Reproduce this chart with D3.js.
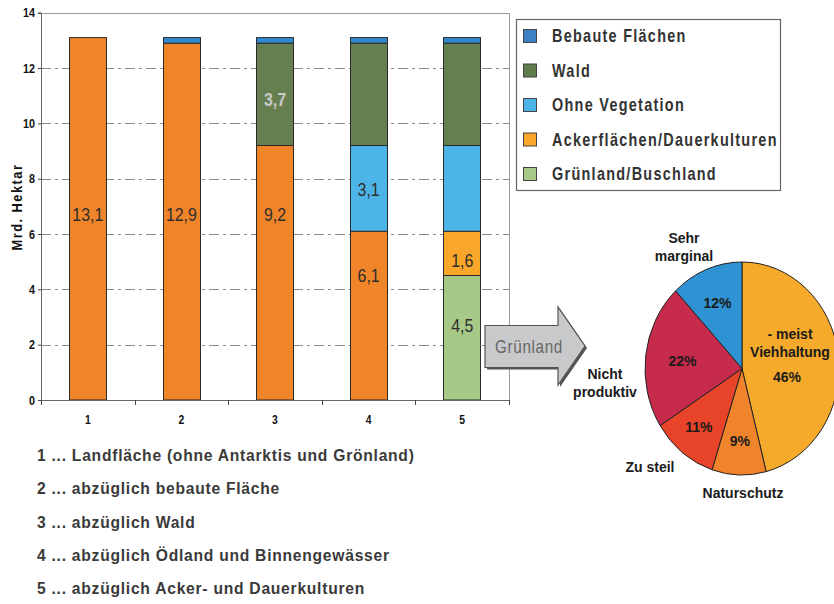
<!DOCTYPE html>
<html>
<head>
<meta charset="utf-8">
<script src="https://cdn.jsdelivr.net/npm/d3@7"></script>
<style>
  html, body { margin: 0; padding: 0; background: #fff; }
  svg { display: block; }
  text { font-family: "Liberation Sans", Arial, sans-serif; }
</style>
</head>
<body>
<svg id="chart" width="834" height="604"></svg>
<script>
// Stacked land-use bars (Mrd. Hektar)
const categories = ["1", "2", "3", "4", "5"];
const restLand     = [13.1, 12.9, 9.2, 6.1, 0];
const gruenland    = [0, 0, 0, 0, 4.5];
const ackerflaeche = [0, 0, 0, 0, 1.6];
const ohneVeg      = [0, 0, 0, 3.1, 3.1];
const wald         = [0, 0, 3.7, 3.7, 3.7];
const bebaut       = [0, 0.2, 0.2, 0.2, 0.2];
const yTicks = [0, 2, 4, 6, 8, 10, 12, 14];

const legendLabels = ["Bebaute Flächen", "Wald", "Ohne Vegetation", "Ackerflächen/Dauerkulturen", "Grünland/Buschland"];

const footnotes = [
  "1 ... Landfläche (ohne Antarktis und Grönland)",
  "2 ... abzüglich bebaute Fläche",
  "3 ... abzüglich Wald",
  "4 ... abzüglich Ödland und Binnengewässer",
  "5 ... abzüglich Acker- und Dauerkulturen"
];

// Grünland breakdown (pie)
const pieLabels = ["Viehhaltung", "Naturschutz", "Zu steil", "Nicht produktiv", "Sehr marginal"];
const pieValues = [46, 9, 11, 22, 12];

const seriesKeys = ["rest", "gruen", "acker", "ohne", "wald", "bebaut"];
const seriesColor = {
  rest: "#F08429", gruen: "#A7C987", acker: "#F8A72A",
  ohne: "#4CB4E6", wald: "#667F4F", bebaut: "#2F8AD2"
};
const legendColors = ["#3C80C6", "#5F7C4B", "#4CB4E6", "#F8A72A", "#A8C988"];

const rows = categories.map((c, i) => ({
  cat: c, rest: restLand[i], gruen: gruenland[i], acker: ackerflaeche[i],
  ohne: ohneVeg[i], wald: wald[i], bebaut: bebaut[i]
}));

const svg = d3.select("#chart");

// condensed lettering: measure a sample string, then squeeze horizontally
function measure(str, size, weight, ls) {
  const t = svg.append("text").attr("font-size", size).attr("font-weight", weight)
    .attr("letter-spacing", ls).text(str);
  const w = t.node().getComputedTextLength();
  t.remove();
  return w;
}
function narrowText(parent, px, py, str, o) {
  const g = parent.append("g")
    .attr("transform", `translate(${px},${py})${o.rotate ? ` rotate(${o.rotate})` : ""} scale(${o.sx},1)`);
  return g.append("text")
    .attr("dy", "0.36em")
    .attr("text-anchor", o.anchor || "start")
    .attr("font-size", o.size).attr("font-weight", o.weight || "normal")
    .attr("letter-spacing", o.ls || 0)
    .attr("fill", o.fill || "#222")
    .text(str);
}

const plot = { left: 41, right: 509, top: 12.7, bottom: 400 };
const x = d3.scaleBand().domain(categories).range([plot.left, plot.right])
  .paddingInner(0.6).paddingOuter(0.3);
const y = d3.scaleLinear().domain([0, 14]).range([plot.bottom, plot.top]);

// gridlines
svg.append("g").selectAll("line").data(yTicks.filter(t => t > 0 && t < 14)).join("line")
  .attr("x1", plot.left).attr("x2", plot.right)
  .attr("y1", d => Math.round(y(d)) + 0.5).attr("y2", d => Math.round(y(d)) + 0.5)
  .attr("stroke", "#8a8a8a").attr("stroke-width", 1)
  .attr("stroke-dasharray", "10,4,3,4");

// frame top / right
svg.append("path")
  .attr("d", `M${plot.left},${Math.round(y(14)) + 0.5}H${plot.right + 0.5}V${plot.bottom}`)
  .attr("fill", "none").attr("stroke", "#999").attr("stroke-width", 1);

// stacked bars
const stacked = d3.stack().keys(seriesKeys)(rows);
const barG = svg.append("g");
stacked.forEach(layer => {
  barG.selectAll(null).data(layer.filter(d => d[1] - d[0] > 0)).join("rect")
    .attr("x", d => Math.round(x(d.data.cat)) + 0.5)
    .attr("width", Math.round(x.bandwidth()))
    .attr("y", d => y(d[1]))
    .attr("height", d => y(d[0]) - y(d[1]))
    .attr("fill", seriesColor[layer.key])
    .attr("stroke", "#2a2a2a").attr("stroke-width", 1);
});

// value labels: segment and vertical anchor (in axis units)
const valueLabels = [
  { bar: 0, key: "rest", at: 6.7 },
  { bar: 1, key: "rest", at: 6.7 },
  { bar: 2, key: "rest", at: 6.7 },
  { bar: 2, key: "wald", at: 10.85, light: true },
  { bar: 3, key: "ohne", at: 7.6 },
  { bar: 3, key: "rest", at: 4.5 },
  { bar: 4, key: "acker", at: 5.05 },
  { bar: 4, key: "gruen", at: 2.7 }
];
const fmt = v => d3.format(".1f")(v).replace(".", ",");
const valSx = 31 / measure("13,1", 18, "normal", 0);
const valG = svg.append("g");
valueLabels.forEach(d => {
  narrowText(valG, x(categories[d.bar]) + x.bandwidth() / 2, y(d.at), fmt(rows[d.bar][d.key]), {
    sx: valSx, size: 18, anchor: "middle",
    weight: d.light ? "bold" : "normal",
    fill: d.light ? "#c9c9c9" : "#2e2e2e"
  });
});

// y axis
const yAxis = svg.append("g").attr("transform", `translate(${plot.left},0)`)
  .call(d3.axisLeft(y).tickValues(yTicks).tickSize(3).tickFormat(""));
yAxis.select(".domain").attr("stroke", "#666");
yAxis.selectAll(".tick line").attr("stroke", "#444");
const tickSx = 12 / measure("14", 13, "bold", 0);
const yTickG = svg.append("g");
yTicks.forEach(t => narrowText(yTickG, 35, y(t), String(t),
  { sx: tickSx, size: 13, weight: "bold", anchor: "end", fill: "#111" }));

const yLabSx = 87 / measure("Mrd. Hektar", 14, "bold", 1.6);
narrowText(svg, 17, 207, "Mrd. Hektar",
  { sx: yLabSx, size: 14, weight: "bold", ls: 1.6, anchor: "middle", rotate: -90, fill: "#111" });

// x axis: ticks between categories
svg.append("line").attr("x1", plot.left).attr("x2", plot.right)
  .attr("y1", plot.bottom + 0.5).attr("y2", plot.bottom + 0.5)
  .attr("stroke", "#666");
const bounds = d3.range(0, categories.length + 1).map(i => plot.left + i * x.step());
svg.append("g").selectAll("line").data(bounds).join("line")
  .attr("x1", d => Math.round(d) + 0.5).attr("x2", d => Math.round(d) + 0.5)
  .attr("y1", plot.bottom).attr("y2", plot.bottom + 5)
  .attr("stroke", "#444");
const catG = svg.append("g");
categories.forEach(c => narrowText(catG, x(c) + x.bandwidth() / 2, 419, c,
  { sx: 0.8, size: 13, weight: "bold", anchor: "middle", fill: "#111" }));

// legend
const lg = svg.append("g");
lg.append("rect").attr("x", 516.5).attr("y", 19.5).attr("width", 264).attr("height", 171)
  .attr("fill", "#fff").attr("stroke", "#666").attr("stroke-width", 1.2);
const legSx = 226 / measure("Ackerflächen/Dauerkulturen", 18, "bold", 1.6);
legendLabels.forEach((lab, i) => {
  const cy = 36 + i * 34.5;
  lg.append("rect").attr("x", 523.5).attr("y", cy - 6.5).attr("width", 13).attr("height", 13)
    .attr("fill", legendColors[i]).attr("stroke", "#444");
  narrowText(lg, 552, cy, lab, { sx: legSx, size: 18, weight: "bold", ls: 1.6, fill: "#333" });
});

// footnotes
const footSx = 378 / measure(footnotes[0], 17, "bold", 0.8);
const footG = svg.append("g");
footnotes.forEach((f, i) => narrowText(footG, 37, 455 + i * 33.3, f,
  { sx: footSx, size: 17, weight: "bold", ls: 0.8, fill: "#3a3a3a" }));

// arrow "Grünland"
const arrowPath = "M485,325.5 H558 V307 L585,346 L558,385 V367.5 H485 Z";
svg.append("path").attr("d", arrowPath)
  .attr("transform", "translate(2,2)").attr("fill", "#555");
svg.append("path").attr("d", arrowPath)
  .attr("fill", "#C8C9CB").attr("stroke", "#555").attr("stroke-width", 1.2);
const arrSx = 68 / measure("Grünland", 19, "normal", 0.8);
narrowText(svg, 529, 346, "Grünland",
  { sx: arrSx, size: 19, ls: 0.8, anchor: "middle", fill: "#666" });

// pie (slightly narrow ellipse)
const pieColors = ["#F6AA2B", "#F0842C", "#E8442A", "#C72B4C", "#2F92D2"];
const cx = 742, cy = 368.5, ry = 106.5, sx = 97 / 106.5;
const pie = d3.pie().sort(null).value(d => d)(pieValues);
const arc = d3.arc().innerRadius(0).outerRadius(ry);
const pg = svg.append("g").attr("transform", `translate(${cx},${cy}) scale(${sx},1)`);
pg.selectAll("path").data(pie).join("path")
  .attr("d", arc)
  .attr("fill", (d, i) => pieColors[i])
  .attr("stroke", "#222").attr("stroke-width", 1).attr("vector-effect", "non-scaling-stroke");

// percentage labels inside slices (radius per slice)
const pctRadius = [0, 72, 74, 60, 70];
const pctG = svg.append("g")
  .attr("font-size", 14).attr("font-weight", "bold").attr("fill", "#1a1a1a")
  .attr("text-anchor", "middle");
pie.forEach((d, i) => {
  if (i === 0) return;
  const a = (d.startAngle + d.endAngle) / 2;
  const r = pctRadius[i];
  pctG.append("text")
    .attr("x", cx + Math.sin(a) * r * (i === 3 ? 1 : 0.95))
    .attr("y", cy - Math.cos(a) * r)
    .attr("dy", "0.36em")
    .text(d.value + "%");
});
// largest slice: caption + value
const big = pctG.append("text").attr("x", cx + 48).attr("y", cy - 35);
big.append("tspan").attr("x", cx + 48).attr("dy", "0.36em").text("- meist");
big.append("tspan").attr("x", cx + 48).attr("dy", 18).text(pieLabels[0]);
pctG.append("text").attr("x", cx + 45).attr("y", cy + 8).attr("dy", "0.36em")
  .text(pieValues[0] + "%");

// outer slice names
const outer = svg.append("g")
  .attr("font-size", 14).attr("font-weight", "bold").attr("fill", "#1a1a1a")
  .attr("text-anchor", "middle");
const outerText = (lines, px, py) => {
  const t = outer.append("text").attr("x", px).attr("y", py);
  lines.forEach((l, k) => t.append("tspan").attr("x", px).attr("dy", k === 0 ? "0.36em" : 18).text(l));
};
outerText(["Sehr", "marginal"], 684, 238);
outerText(["Nicht", "produktiv"], 605, 374);
outerText([pieLabels[2]], 650, 467);
outerText([pieLabels[1]], 743, 493);
</script>
</body>
</html>
